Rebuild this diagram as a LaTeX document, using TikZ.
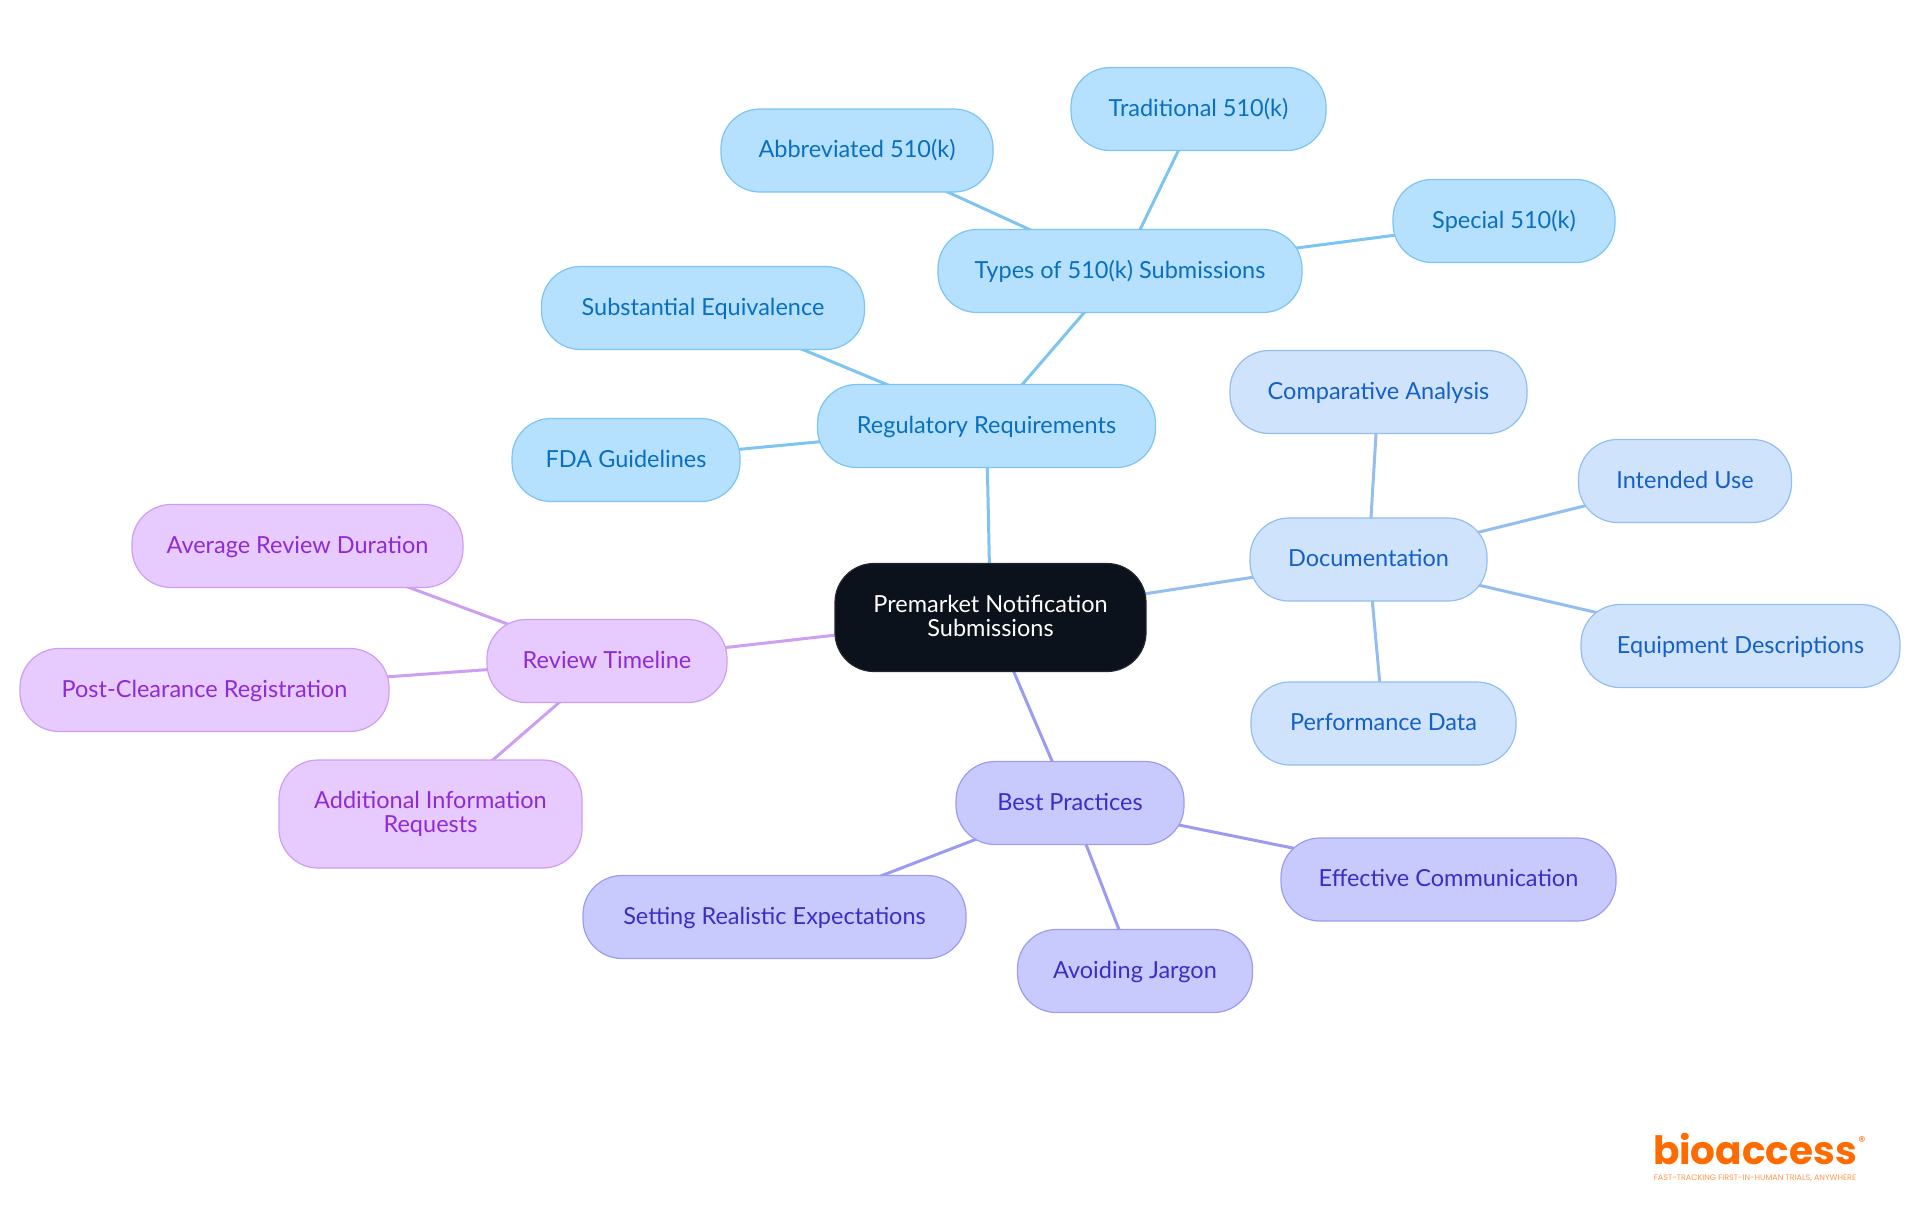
\documentclass[tikz,border=0pt]{standalone}
\usepackage{fontspec}
\setmainfont{Lato}
\newfontfamily\logofont{Poppins}
\usetikzlibrary{backgrounds}
\definecolor{rootfill}{HTML}{0B121B}
\definecolor{regfill}{HTML}{B5E0FE}
\definecolor{regline}{HTML}{7DC4F1}
\definecolor{regtext}{HTML}{0A6FBF}
\definecolor{docfill}{HTML}{CFE3FD}
\definecolor{docline}{HTML}{93BEEF}
\definecolor{doctext}{HTML}{1560C6}
\definecolor{bestfill}{HTML}{C8CAFE}
\definecolor{bestline}{HTML}{9B9CEF}
\definecolor{besttext}{HTML}{3A2FC4}
\definecolor{revfill}{HTML}{E7CAFE}
\definecolor{revline}{HTML}{CC9FF3}
\definecolor{revtext}{HTML}{8F2BD6}
\definecolor{logoorange}{HTML}{FF6B00}
\tikzset{
  mapnode/.style={rectangle,draw,line width=0.6pt,rounded corners=19.5pt,align=center,
    font=\fontsize{11.75}{12}\selectfont,inner sep=0pt,minimum height=41.5pt,
    text height=9pt,text depth=2pt},
  twoline/.style={minimum height=54pt,text height=21pt,text depth=2.5pt},
  rootnode/.style={mapnode,draw=rootfill!80!gray,fill=rootfill,text=white},
  regnode/.style={mapnode,draw=regline,fill=regfill,text=regtext},
  docnode/.style={mapnode,draw=docline,fill=docfill,text=doctext},
  bestnode/.style={mapnode,draw=bestline,fill=bestfill,text=besttext},
  revnode/.style={mapnode,draw=revline,fill=revfill,text=revtext},
  link/.style={line width=1.5pt}
}
\begin{document}
\begin{tikzpicture}[x=0.5pt,y=-0.5pt]
\useasboundingbox (0,0) rectangle (1920,1215);
\node[rootnode,twoline,minimum width=155.5pt] (root) at (990.5,617.5) {Premarket Notification\\Submissions};
\node[regnode,minimum width=169pt] (reg) at (986.5,426) {Regulatory Requirements};
\node[regnode,minimum width=182pt] (types) at (1120,271) {Types of 510(k) Submissions};
\node[regnode,minimum width=127.5pt] (trad) at (1198.5,109) {Traditional 510(k)};
\node[regnode,minimum width=136pt] (abbr) at (857,150.5) {Abbreviated 510(k)};
\node[regnode,minimum width=111pt] (spec) at (1504,221) {Special 510(k)};
\node[regnode,minimum width=161.5pt] (subst) at (703,308) {Substantial Equivalence};
\node[regnode,minimum width=114pt] (fda) at (626,460) {FDA Guidelines};
\node[docnode,minimum width=118.5pt] (doc) at (1368.5,559.5) {Documentation};
\node[docnode,minimum width=148.5pt] (comp) at (1378.5,392) {Comparative Analysis};
\node[docnode,minimum width=106.5pt] (use) at (1685,481) {Intended Use};
\node[docnode,minimum width=159.5pt] (equip) at (1740.5,646) {Equipment Descriptions};
\node[docnode,minimum width=132.5pt] (perf) at (1383.5,723.5) {Performance Data};
\node[bestnode,minimum width=114pt] (best) at (1070,803) {Best Practices};
\node[bestnode,minimum width=167.5pt] (comm) at (1448.5,879.5) {Effective Communication};
\node[bestnode,minimum width=117.5pt] (jarg) at (1135,971) {Avoiding Jargon};
\node[bestnode,minimum width=191.5pt] (expect) at (774.5,917) {Setting Realistic Expectations};
\node[revnode,minimum width=120pt] (rev) at (607,661) {Review Timeline};
\node[revnode,minimum width=165.5pt] (avg) at (297.5,546) {Average Review Duration};
\node[revnode,minimum width=184.5pt] (post) at (204.5,690) {Post-Clearance Registration};
\node[revnode,twoline,minimum width=151.5pt] (info) at (430.5,814) {Additional Information\\Requests};
\node[text=logoorange,font=\logofont\bfseries\fontsize{19.5}{20}\selectfont,inner sep=0pt] (logo) at (1755,1149.5) {bioaccess};
\node[text=logoorange,font=\logofont\fontsize{7}{7}\selectfont,inner sep=0pt] (regmark) at (1862,1142) {®};
\node[text=logoorange!70,font=\logofont\fontsize{4}{4}\selectfont,inner sep=0pt] (tag) at (1755,1178) {FAST-TRACKING FIRST-IN-HUMAN TRIALS, ANYWHERE};
\begin{pgfonlayer}{background}
\foreach \a/\b in {root/reg,reg/types,types/trad,types/abbr,types/spec,reg/subst,reg/fda}
  \draw[link,regline] (\a.center) -- (\b.center);
\foreach \a/\b in {root/doc,doc/comp,doc/use,doc/equip,doc/perf}
  \draw[link,docline] (\a.center) -- (\b.center);
\foreach \a/\b in {root/best,best/comm,best/jarg,best/expect}
  \draw[link,bestline] (\a.center) -- (\b.center);
\foreach \a/\b in {root/rev,rev/avg,rev/post,rev/info}
  \draw[link,revline] (\a.center) -- (\b.center);
\end{pgfonlayer}
\end{tikzpicture}
\end{document}
